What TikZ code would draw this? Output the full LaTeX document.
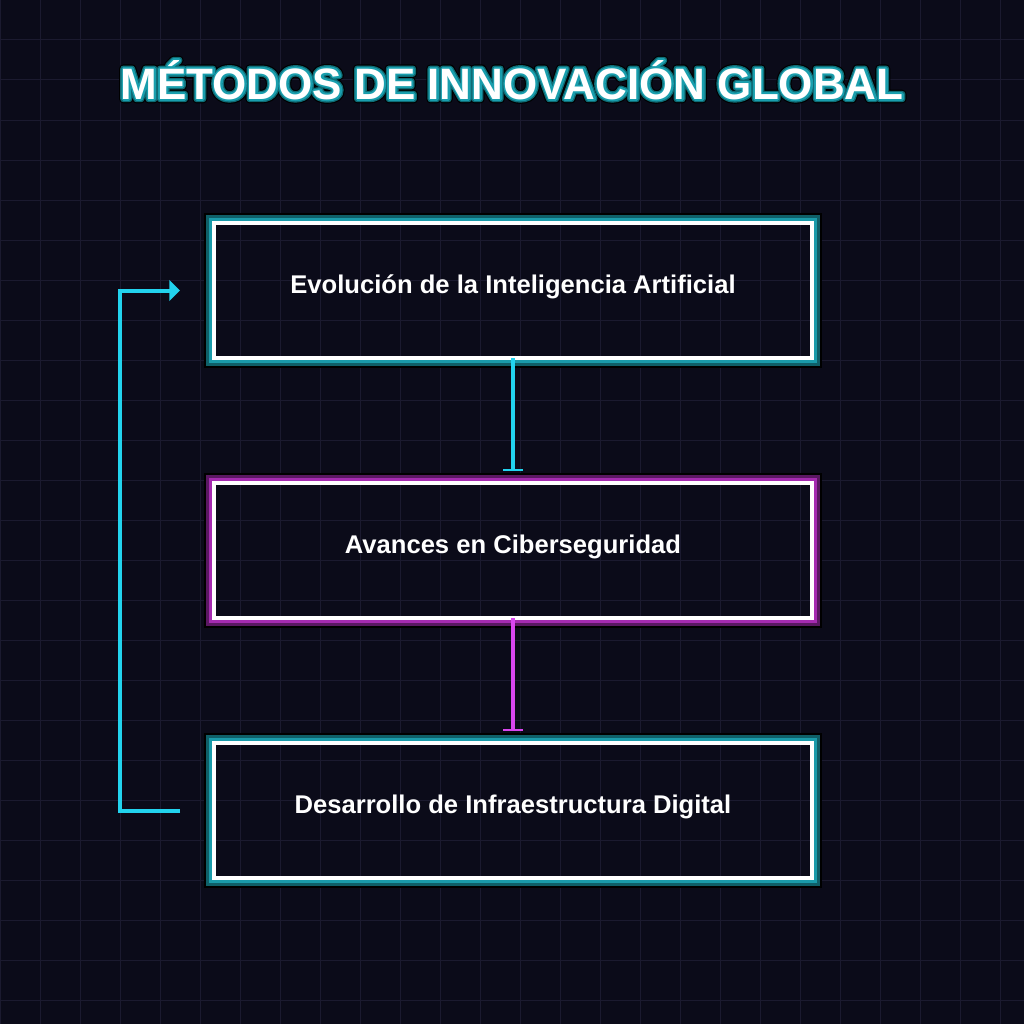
\documentclass[tikz,border=0pt]{standalone}
\usepackage{fontspec}
\setmainfont{Liberation Sans}
\usetikzlibrary{arrows.meta,calc}
\definecolor{bg}{HTML}{0B0B19}
\definecolor{gridc}{HTML}{1B1A2F}
\definecolor{cyanx}{HTML}{22D3EE}
\definecolor{magx}{HTML}{D946EF}
\definecolor{tealA}{HTML}{1A9BAA}
\definecolor{tealB}{HTML}{0F5F68}
\definecolor{magA}{HTML}{A52BB0}
\definecolor{magB}{HTML}{5A1862}
\newcommand{\titletext}{MÉTODOS DE INNOVACIÓN GLOBAL}
\newcommand{\strokedtext}[3]{\special{pdf:literal direct 2 Tr 1 j 1 J #1 w #2 RG #2 rg}#3\special{pdf:literal direct 0 Tr 0 j 0 J}}
\newcommand{\glowbox}[3]{%
  \draw[#2, line width=2.25pt] ($(#1.north west)+(-3.5,-3.5)$) rectangle ($(#1.south east)+(3.5,3.5)$);
  \draw[#3, line width=2.25pt] ($(#1.north west)+(-6.5,-6.5)$) rectangle ($(#1.south east)+(6.5,6.5)$);
  \draw[black, line width=1.5pt] ($(#1.north west)+(-9,-9)$) rectangle ($(#1.south east)+(9,9)$);
}
\begin{document}
\begin{tikzpicture}[x=0.75pt,y=-0.75pt,
  gridline/.style={gridc, line width=0.75pt},
  titlefont/.style={font=\bfseries\fontsize{33}{38}\selectfont, anchor=base, inner sep=0pt},
  box/.style={draw=white, line width=3pt, fill=none, minimum width=448.5pt, minimum height=101.25pt,
    outer sep=0pt, inner sep=0pt, text=white, font=\bfseries\fontsize{19.2}{23}\selectfont,
    text height=9pt, text depth=4.5pt},
  flow/.style={line width=3pt, shorten >=9pt, -{Bar[width=15pt,line width=1.5pt]}},
  fb/.style={cyanx, line width=3pt, -{Triangle[length=8pt,width=15.5pt]}}
]
\fill[bg] (0,0) rectangle (1024,1024);
\useasboundingbox (0,0) rectangle (1024,1024);
\foreach \i in {0,40,...,1000} {
  \draw[gridline] (\i,0) -- (\i,1024);
  \draw[gridline] (0,\i) -- (1024,\i);
}
% title with outline (stroked text render mode)
\node[titlefont] (titleback) at (512,99) {\strokedtext{6.5}{0 0 0}{\titletext}};
\node[titlefont] (titlemid) at (512,99) {\strokedtext{4.8}{0.06 0.42 0.46}{\titletext}};
\node[titlefont] (titleglow) at (512,99) {\strokedtext{2.8}{0.10 0.62 0.68}{\titletext}};
\node[titlefont, text=white] (title) at (512,99) {\titletext};

% boxes
\node[box] (b1) at (513,290.5) {Evolución de la Inteligencia Artificial};
\node[box] (b2) at (513,550.5) {Avances en Ciberseguridad};
\node[box] (b3) at (513,810.5) {Desarrollo de Infraestructura Digital};
\glowbox{b1}{tealA}{tealB}
\glowbox{b2}{magA}{magB}
\glowbox{b3}{tealA}{tealB}

% connectors
\draw[flow, cyanx] (b1.south) -- (b2.north);
\draw[flow, magx] (b2.south) -- (b3.north);

\coordinate (fbx) at (120,0);
\path (b3.west) ++(-34,0) coordinate (fbs);
\path (b1.west) ++(-34,0) coordinate (fbe);
\draw[fb] (fbs) -- (fbx |- fbs) -- (fbx |- fbe) -- (fbe);
\end{tikzpicture}
\end{document}
